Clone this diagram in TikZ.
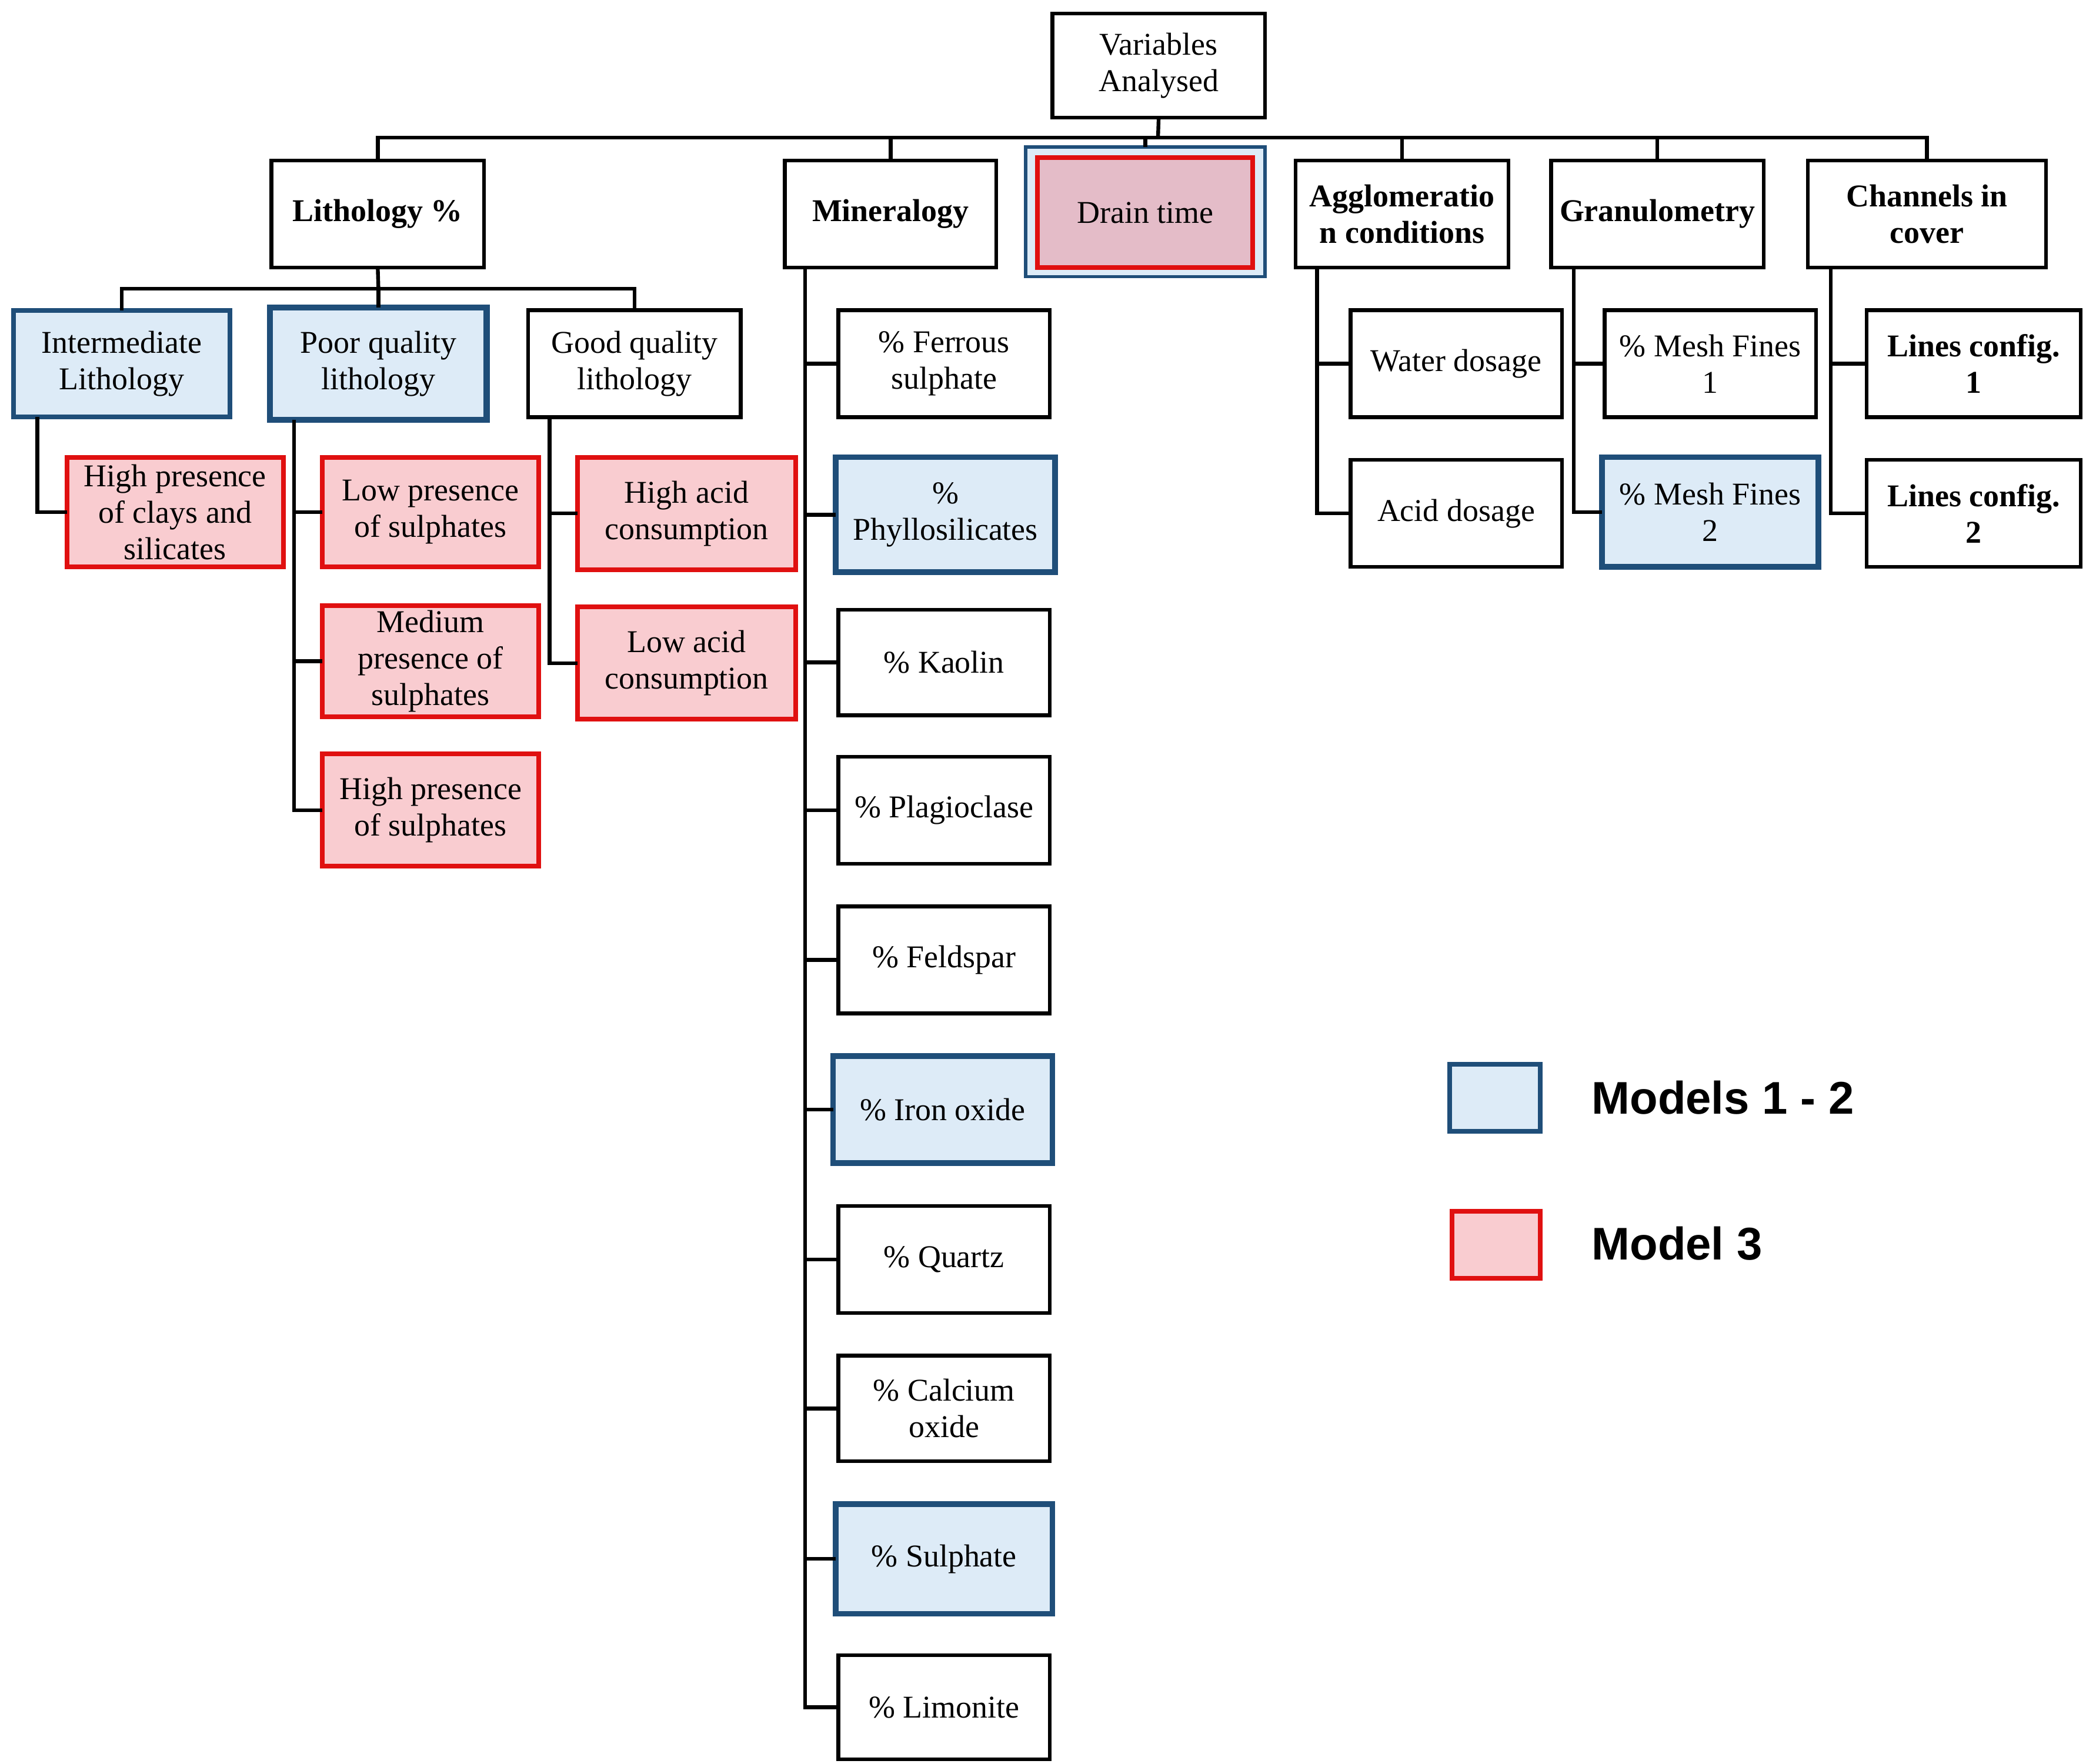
\documentclass[tikz,border=0pt]{standalone}
\usepackage{fontspec}
\setmainfont{Liberation Serif}
\newfontfamily\legfont{Liberation Sans}
\definecolor{bfill}{HTML}{DDEBF7}
\definecolor{bline}{HTML}{1F4E79}
\definecolor{rfill}{HTML}{F9CCD0}
\definecolor{rline}{HTML}{E01010}
\definecolor{dfill}{HTML}{E4BCC8}
\newcommand\bx[7]{\node[#6, minimum width={(#4-#2)*0.02cm}, minimum height={(#5-#3)*0.02cm}] (#1) at ({(#2+#4)/2},{(#3+#5)/2}) {#7};}
\begin{document}
\begin{tikzpicture}[x=0.02cm,y=-0.02cm,
  box/.style={draw=black, line width=1.6pt, fill=white, inner sep=0pt, outer sep=0pt, align=center,
    font=\fontsize{13.5}{15.5}\selectfont},
  wb/.style={box},
  bb/.style={box, draw=bline, fill=bfill, line width=2pt},
  rb/.style={box, draw=rline, fill=rfill, line width=2pt},
  ln/.style={line width=1.6pt, draw=black},
  leg/.style={anchor=west, font=\legfont\bfseries\fontsize{19.5}{22}\selectfont, inner sep=0pt}]
\useasboundingbox (0,0) rectangle (1560,1319);
% root and level 1
\bx{root}{787}{10}{946}{88}{wb}{Variables\\Analysed}
\bx{lith}{203}{120}{362}{200}{wb}{\textbf{Lithology \%}}
\bx{min}{587}{120}{745}{200}{wb}{\textbf{Mineralogy}}
\bx{drainO}{767}{110}{946}{207}{bb, line width=1.4pt}{}
\bx{drain}{776}{118}{937}{200}{rb, fill=dfill}{Drain time}
\bx{agg}{969}{120}{1128}{200}{wb}{\textbf{Agglomeratio}\\\textbf{n conditions}}
\bx{gran}{1160}{120}{1319}{200}{wb}{\textbf{Granulometry}}
\bx{chan}{1352}{120}{1530}{200}{wb}{\textbf{Channels in}\\\textbf{cover}}
\coordinate (bus) at (866,103);
\draw[ln] (root.south) -- (bus);
\foreach \n in {lith,min,drainO,agg,gran,chan} \draw[ln] (\n.north) |- (bus);
% lithology
\bx{inter}{10}{232}{172}{312}{bb}{Intermediate\\Lithology}
\bx{poor}{202}{230}{364}{314}{bb, line width=2.6pt}{Poor quality\\lithology}
\bx{good}{395}{232}{554}{312}{wb}{Good quality\\lithology}
\coordinate (lbus) at (283,216);
\draw[ln] (lith.south) -- (lbus);
\foreach \n in {inter,poor,good} \draw[ln] (\n.north) |- (lbus);
\bx{clays}{50}{342}{212}{424}{rb}{High presence\\of clays and\\silicates}
\bx{lowS}{241}{342}{403}{424}{rb}{Low presence\\of sulphates}
\bx{medS}{241}{453}{403}{536}{rb}{Medium\\presence of\\sulphates}
\bx{highS}{241}{564}{403}{648}{rb}{High presence\\of sulphates}
\bx{hiA}{432}{342}{595}{426}{rb}{High acid\\consumption}
\bx{loA}{432}{454}{595}{538}{rb}{Low acid\\consumption}
\coordinate (interS) at (28,312);
\coordinate (poorS) at (220,314);
\coordinate (goodS) at (411,312);
\draw[ln] (interS) |- (clays.west);
\draw[ln] (poorS) |- (highS.west);
\foreach \n in {lowS,medS} \draw[ln] (poorS|-\n.west) -- (\n.west);
\draw[ln] (goodS) |- (loA.west);
\draw[ln] (goodS|-hiA.west) -- (hiA.west);
% mineralogy
\bx{ferr}{627}{232}{785}{312}{wb}{\% Ferrous\\sulphate}
\bx{phyl}{625}{342}{789}{428}{bb, line width=2.4pt}{\%\\Phyllosilicates}
\bx{kao}{627}{456}{785}{535}{wb}{\% Kaolin}
\bx{plag}{627}{566}{785}{646}{wb}{\% Plagioclase}
\bx{feld}{627}{678}{785}{758}{wb}{\% Feldspar}
\bx{iron}{623}{790}{787}{870}{bb, line width=2.4pt}{\% Iron oxide}
\bx{quar}{627}{902}{785}{982}{wb}{\% Quartz}
\bx{calc}{627}{1014}{785}{1093}{wb}{\% Calcium\\oxide}
\bx{sulp}{625}{1125}{787}{1207}{bb, line width=2.4pt}{\% Sulphate}
\bx{limo}{627}{1238}{785}{1316}{wb}{\% Limonite}
\coordinate (minS) at (602,200);
\draw[ln] (minS) |- (limo.west);
\foreach \n in {ferr,phyl,kao,plag,feld,iron,quar,calc,sulp} \draw[ln] (minS|-\n.west) -- (\n.west);
% agglomeration
\bx{water}{1010}{232}{1168}{312}{wb}{Water dosage}
\bx{acid}{1010}{344}{1168}{424}{wb}{Acid dosage}
\coordinate (aggS) at (985,200);
\draw[ln] (aggS) |- (acid.west);
\draw[ln] (aggS|-water.west) -- (water.west);
% granulometry
\bx{mesh1}{1200}{232}{1358}{312}{wb}{\% Mesh Fines\\1}
\bx{mesh2}{1198}{342}{1360}{424}{bb, line width=2.4pt}{\% Mesh Fines\\2}
\coordinate (granS) at (1177,200);
\draw[ln] (granS) |- (mesh2.west);
\draw[ln] (granS|-mesh1.west) -- (mesh1.west);
% channels
\bx{lc1}{1396}{232}{1556}{312}{wb}{\textbf{Lines config.}\\\textbf{1}}
\bx{lc2}{1396}{344}{1556}{424}{wb}{\textbf{Lines config.}\\\textbf{2}}
\coordinate (chanS) at (1369,200);
\draw[ln] (chanS) |- (lc2.west);
\draw[ln] (chanS|-lc1.west) -- (lc1.west);
% legend
\bx{legB}{1084}{796}{1152}{846}{bb}{}
\bx{legR}{1086}{906}{1152}{956}{rb}{}
\node[leg] (legBt) at (1190,821) {Models 1 - 2};
\node[leg] (legRt) at (1190,930) {Model 3};
\end{tikzpicture}
\end{document}
